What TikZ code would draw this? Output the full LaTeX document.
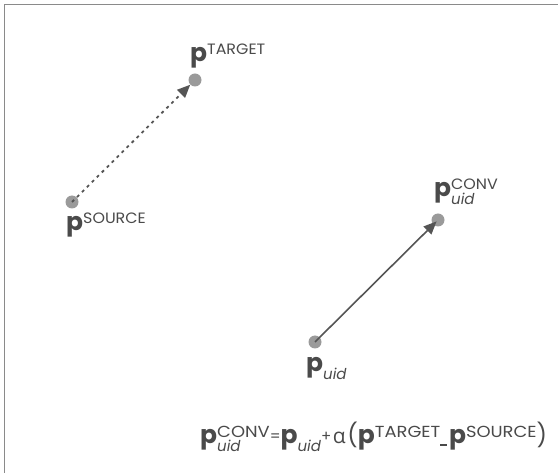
\documentclass[tikz,border=0pt]{standalone}
\usepackage{fontspec}
\setmainfont{Poppins}
\newfontfamily\supfont[FakeStretch=1.06]{Poppins}
\newfontfamily\fsupfont[FakeStretch=1.12]{Poppins}
\newfontfamily\gfont{Open Sans}
\definecolor{txt}{HTML}{4A4A4A}
\definecolor{dotgray}{HTML}{9A9A9A}
\definecolor{linegray}{HTML}{555555}
\definecolor{framegray}{HTML}{8A8A8A}
\newcommand\myP{{\fontsize{25}{25}\selectfont\bfseries p}}
\newcommand\mySup[1]{\raisebox{7pt}{\fontsize{15}{15}\supfont #1}}
\newcommand\myFSup[1]{\raisebox{6.5pt}{\fontsize{16}{16}\fsupfont #1}}
\newcommand\mySub[1]{\raisebox{-8pt}{\fontsize{15}{15}\selectfont\itshape #1}}
\newcommand\myOp[1]{\raisebox{2pt}{\fontsize{15}{15}\selectfont #1}}
\tikzset{
  dot/.style={circle,fill=dotgray,inner sep=0pt,minimum size=13pt},
  lab/.style={anchor=base west,inner sep=0pt,text=txt},
  dashline/.style={draw=linegray,line width=1.8pt,dash pattern=on 3pt off 4pt,-{Triangle[length=13pt,width=11pt]}},
  solidline/.style={draw=linegray,line width=1.6pt,-{Triangle[length=13pt,width=11pt]}},
  frameline/.style={draw=framegray,line width=1.5pt}
}
\usetikzlibrary{arrows.meta}
\begin{document}
\begin{tikzpicture}[x=1pt,y=-1pt]
\useasboundingbox (0,0) rectangle (558,473);
\coordinate (fa) at (4.5,473);
\coordinate (fb) at (4.5,4.5);
\coordinate (fc) at (558,4.5);
\draw[frameline] (fa) -- (fb) -- (fc);
\node[dot] (s) at (72,202) {};
\node[dot] (t) at (195,80) {};
\node[dot] (u) at (315,342) {};
\node[dot] (c) at (438,220) {};
\draw[dashline] (s.center) -- (t);
\draw[solidline,shorten >=2pt] (u.center) -- (c.center);
\node[lab] (tgt) at (190,62) {\myP\mySup{TARGET}};
\node[lab] (src) at (66,231) {\myP\mySup{SOURCE}};
\node[lab] (uidl) at (306,372) {\myP\mySub{uid}};
\node[lab] (convl) at (434,197) {\myP\rlap{\mySub{uid}}\mySup{CONV}};
\node[lab] (eq) at (200,444) {\myP\rlap{\mySub{uid}}\myFSup{CONV}\myOp{=}\myP\mySub{uid}\myOp{+}\,{\fontsize{21}{21}\gfont α}\,{\fontsize{23}{23}\selectfont(}\myP\myFSup{TARGET}\rule[-2pt]{7pt}{2pt}\,\myP\myFSup{SOURCE}{\fontsize{23}{23}\selectfont)}};
\end{tikzpicture}
\end{document}
